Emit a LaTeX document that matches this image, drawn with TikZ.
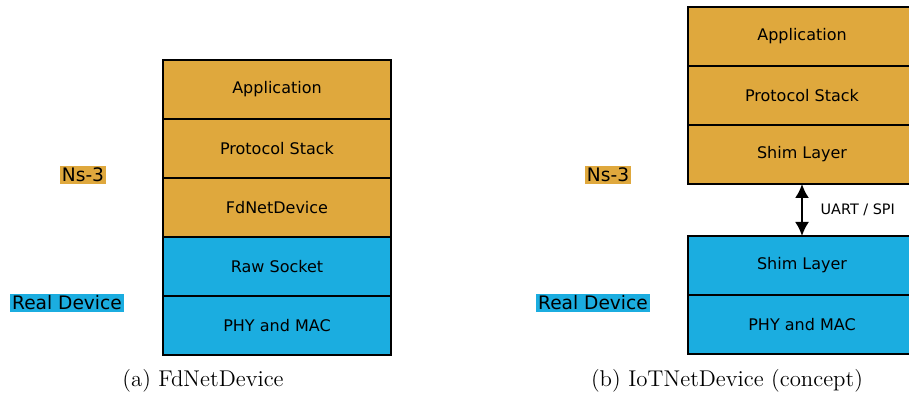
\documentclass[tikz,border=0pt]{standalone}
\usepackage{fontspec}
\newfontfamily\dejavu{DejaVu Sans}
\usetikzlibrary{positioning}
\usetikzlibrary{arrows.meta}
\definecolor{nsorange}{RGB}{223,168,61}
\definecolor{devblue}{RGB}{27,173,224}
\tikzset{
	layer/.style={draw, line width=1pt, outer sep=0pt, inner sep=0pt,
		minimum width=114pt, minimum height=29.5pt,
		font=\dejavu\fontsize{8}{9}\selectfont},
	nslayer/.style={layer, fill=nsorange},
	devlayer/.style={layer, fill=devblue},
	side label/.style={inner sep=1pt, font=\dejavu\fontsize{9.3}{11}\selectfont},
	caption/.style={inner sep=0pt, font=\fontsize{11.4}{13}\selectfont},
}

\begin{document}
\begin{tikzpicture}[x=0.5pt, y=-0.5pt]
		\useasboundingbox (0,0) rectangle (909,399);
		% (a) FdNetDevice
		\node[nslayer] (appA) at (277,89.5) {Application};
		\node[nslayer, below=0pt of appA] (stackA) {Protocol Stack};
		\node[nslayer, below=0pt of stackA] (fdA) {FdNetDevice};
		\node[devlayer, below=0pt of fdA] (rawA) {Raw Socket};
		\node[devlayer, below=0pt of rawA] (phyA) {PHY and MAC};
		\node[side label, fill=nsorange] (nsA) at (83,175) {Ns-3};
		\node[side label, fill=devblue] (realA) at (67,303) {Real Device};
		\node[caption] (capA) at (203,381) {(a) FdNetDevice};
		% (b) IoTNetDevice
		\node[nslayer] (appB) at (802,36.5) {Application};
		\node[nslayer, below=0pt of appB] (stackB) {Protocol Stack};
		\node[nslayer, below=0pt of stackB] (shimB) {Shim Layer};
		\node[devlayer] (shimD) at (802,265.5) {Shim Layer};
		\node[devlayer, below=0pt of shimD] (phyB) {PHY and MAC};
		\draw[line width=1pt, {Latex[length=7pt,width=7pt]}-{Latex[length=7pt,width=7pt]}]
			(shimB.south) -- (shimD.north)
			node[midway, right=5.5pt, font=\dejavu\fontsize{7.2}{8}\selectfont] (uart) {UART / SPI};
		\node[side label, fill=nsorange] (nsB) at (608,175) {Ns-3};
		\node[side label, fill=devblue] (realB) at (593,303) {Real Device};
		\node[caption] (capB) at (727,381) {(b) IoTNetDevice (concept)};
	\end{tikzpicture}
\end{document}
